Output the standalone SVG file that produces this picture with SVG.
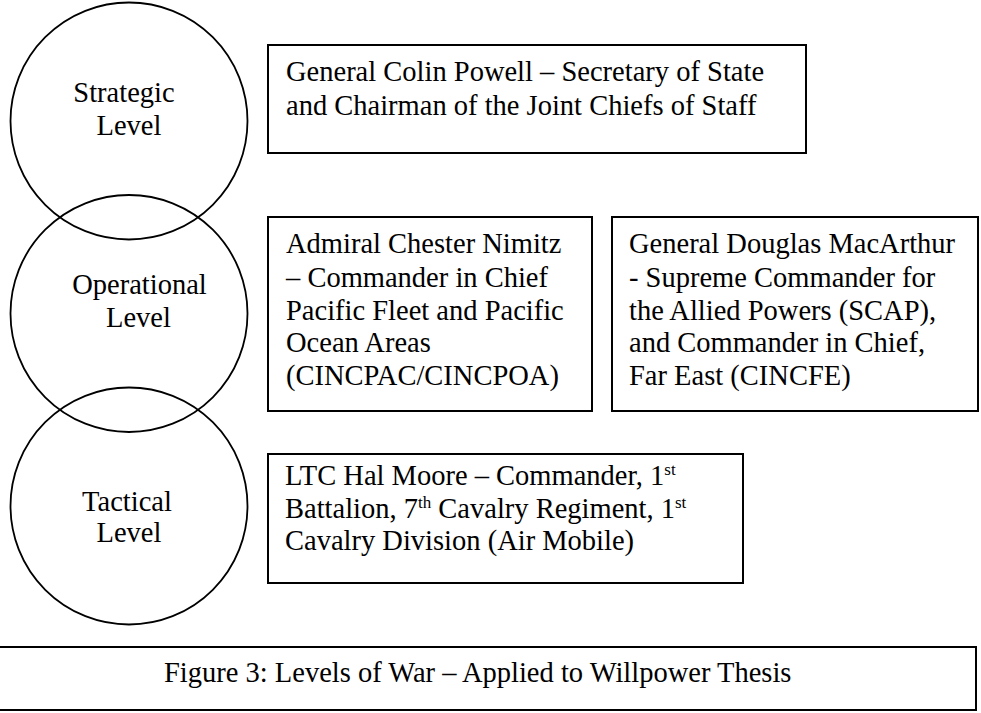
<svg xmlns="http://www.w3.org/2000/svg" width="981" height="713" viewBox="0 0 981 713">
<style>
  .circ { fill: none; stroke: #000; stroke-width: 1.8; }
  .box { fill: none; stroke: #000; stroke-width: 2; }
  text { font-family: "Liberation Serif", "Times New Roman", serif; font-size: 28.5px; fill: #000; }
  .c { text-anchor: middle; }
  .sup { font-size: 17px; }
</style>
<rect width="981" height="713" fill="#fff"/>
<g id="strategic-level">
  <circle class="circ" cx="129" cy="121" r="118.5"/>
  <text class="c" x="124" y="102">Strategic</text>
  <text class="c" x="129" y="135">Level</text>
</g>
<g id="operational-level">
  <circle class="circ" cx="129" cy="313.5" r="118.5"/>
  <text class="c" x="139.5" y="294">Operational</text>
  <text class="c" x="138.5" y="327">Level</text>
</g>
<g id="tactical-level">
  <circle class="circ" cx="129" cy="506" r="118.5"/>
  <text class="c" x="127" y="511">Tactical</text>
  <text class="c" x="129" y="542">Level</text>
</g>
<g id="powell">
  <rect class="box" x="268" y="45" width="538" height="108"/>
  <text x="286" y="81">General Colin Powell – Secretary of State</text>
  <text x="286" y="115">and Chairman of the Joint Chiefs of Staff</text>
</g>
<g id="nimitz">
  <rect class="box" x="268" y="217" width="324" height="194"/>
  <text x="286" y="253">Admiral Chester Nimitz</text>
  <text x="286" y="287">– Commander in Chief</text>
  <text x="286" y="320">Pacific Fleet and Pacific</text>
  <text x="286" y="352">Ocean  Areas</text>
  <text x="286" y="385">(CINCPAC/CINCPOA)</text>
</g>
<g id="macarthur">
  <rect class="box" x="612" y="217" width="366" height="194"/>
  <text x="629" y="253">General Douglas MacArthur</text>
  <text x="629" y="287">- Supreme Commander for</text>
  <text x="629" y="320">the Allied Powers (SCAP),</text>
  <text x="629" y="352">and Commander in Chief,</text>
  <text x="629" y="385">Far East (CINCFE)</text>
</g>
<g id="moore">
  <rect class="box" x="268" y="454" width="475" height="129"/>
  <text x="285" y="485">LTC Hal Moore – Commander, 1<tspan class="sup" dy="-10">st</tspan></text>
  <text x="285" y="518">Battalion, 7<tspan class="sup" dy="-10">th</tspan><tspan dy="10"> Cavalry Regiment, 1</tspan><tspan class="sup" dy="-10">st</tspan></text>
  <text x="285" y="550">Cavalry Division (Air Mobile)</text>
</g>
<g id="caption">
  <rect class="box" x="-2" y="647" width="978" height="63"/>
  <text x="164" y="682">Figure 3: Levels of War – Applied to Willpower Thesis</text>
</g>
<g id="connectors"></g>
</svg>
